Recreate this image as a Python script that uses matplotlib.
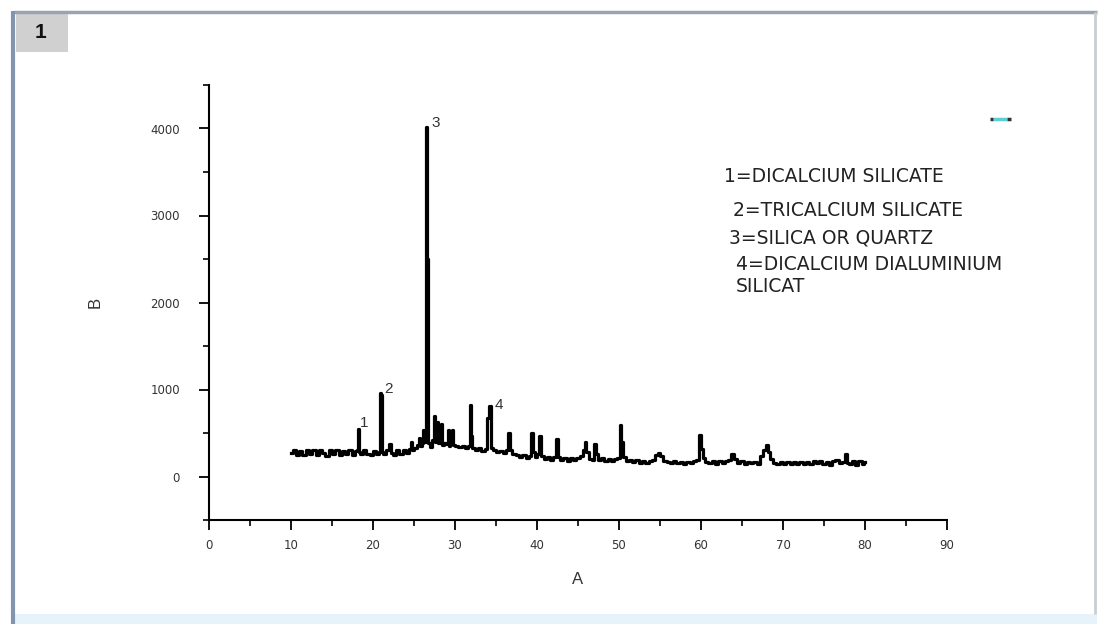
import matplotlib
matplotlib.use("Agg")
import matplotlib.pyplot as plt
from matplotlib.patches import Rectangle
from matplotlib.ticker import MultipleLocator

# XRD pattern (2-theta, counts)
two_theta = [
    10.0, 10.4, 10.8, 11.2, 11.6, 12.0, 12.4, 12.8, 13.2, 13.6, 14.0, 14.4, 14.8,
    15.2, 15.6, 16.0, 16.4, 16.8, 17.2, 17.6, 18.0, 18.1, 18.2, 18.3, 18.6, 19.0,
    19.4, 19.8, 20.2, 20.6, 20.8, 20.9, 21.0, 21.1, 21.4, 21.8, 22.1, 22.3, 22.6,
    23.0, 23.4, 23.8, 24.2, 24.6, 24.7, 24.8, 25.2, 25.6, 25.7, 25.8, 26.1, 26.2,
    26.3, 26.55, 26.7, 26.8, 27.0, 27.3, 27.5, 27.6, 27.8, 27.9, 28.0, 28.3, 28.4,
    28.5, 28.8, 29.1, 29.2, 29.3, 29.6, 29.7, 29.8, 30.2, 30.6, 31.0, 31.4, 31.8,
    31.95, 32.05, 32.2, 32.6, 33.0, 33.4, 33.8, 34.1, 34.3, 34.45, 34.8, 35.2, 35.6,
    36.0, 36.4, 36.6, 36.8, 37.2, 37.6, 38.0, 38.4, 38.8, 39.2, 39.4, 39.6, 39.9,
    40.2, 40.4, 40.6, 41.0, 41.4, 41.8, 42.2, 42.5, 42.7, 43.0, 43.4, 43.8, 44.2,
    44.6, 45.0, 45.4, 45.7, 45.9, 46.1, 46.5, 46.9, 47.1, 47.3, 47.6, 48.0, 48.4,
    48.8, 49.2, 49.6, 50.0, 50.2, 50.4, 50.6, 51.0, 51.4, 51.8, 52.2, 52.6, 53.0,
    53.4, 53.8, 54.2, 54.6, 54.9, 55.2, 55.6, 56.0, 56.4, 56.8, 57.2, 57.6, 58.0,
    58.4, 58.8, 59.2, 59.6, 59.9, 60.1, 60.3, 60.7, 61.1, 61.5, 61.9, 62.3, 62.7,
    63.1, 63.5, 63.9, 64.2, 64.6, 65.0, 65.4, 65.8, 66.2, 66.6, 67.0, 67.4, 67.8,
    68.1, 68.3, 68.6, 69.0, 69.4, 69.8, 70.2, 70.6, 71.0, 71.4, 71.8, 72.2, 72.6,
    73.0, 73.4, 73.8, 74.2, 74.6, 75.0, 75.4, 75.8, 76.2, 76.6, 77.0, 77.4, 77.7,
    77.9, 78.2, 78.6, 79.0, 79.4, 79.8, 80.0,
]
counts = [
    265, 300, 250, 295, 245, 305, 260, 310, 250, 300, 265, 240, 300,
    255, 305, 250, 295, 255, 310, 250, 295, 300, 550, 280, 255, 300,
    260, 245, 295, 255, 285, 960, 940, 280, 255, 300, 370, 275, 250,
    300, 260, 305, 275, 315, 395, 300, 330, 365, 440, 345, 385, 530,
    400, 4020, 2500, 380, 340, 420, 690, 400, 440, 630, 380, 400, 600,
    360, 390, 375, 530, 355, 385, 540, 365, 350, 335, 355, 330, 345,
    825, 470, 330, 300, 325, 290, 315, 670, 805, 330, 300, 285, 290,
    265, 305, 495, 300, 255, 245, 220, 250, 215, 240, 505, 280, 225,
    255, 460, 240, 205, 225, 195, 220, 435, 220, 195, 215, 180, 210,
    190, 215, 230, 310, 395, 280, 205, 195, 370, 260, 195, 210, 180,
    200, 175, 200, 210, 595, 400, 220, 175, 195, 165, 190, 160, 180,
    155, 180, 190, 250, 265, 230, 175, 170, 150, 175, 150, 170, 145,
    170, 155, 180, 185, 480, 320, 210, 170, 155, 180, 145, 180, 155,
    180, 190, 256, 200, 160, 175, 145, 170, 150, 170, 140, 230, 300,
    366, 280, 200, 155, 140, 170, 145, 165, 140, 170, 145, 165, 145,
    170, 140, 175, 150, 180, 145, 165, 135, 175, 185, 150, 170, 256,
    160, 140, 180, 135, 180, 145, 170,
]

peak_labels = ["1", "2", "3", "4"]
peak_label_x = [18.95, 21.9, 27.7, 35.3]
peak_label_y = [610, 1010, 4060, 820]

legend_lines = [
    "1=DICALCIUM SILICATE",
    "2=TRICALCIUM SILICATE",
    "3=SILICA OR QUARTZ",
    "4=DICALCIUM DIALUMINIUM",
    "SILICAT",
]

plt.rcParams['font.family'] = ['Liberation Sans', 'DejaVu Sans']

fig = plt.figure(figsize=(11, 6.24), dpi=100)
fig.patch.set_facecolor('white')

# window frame around the screenshot, in pixel coords
bg = fig.add_axes([0, 0, 1, 1], zorder=0)
bg.set_xlim(0, 1100)
bg.set_ylim(624, 0)
bg.axis('off')
bg.add_patch(Rectangle((13, 614), 1084, 10, color='#e6f3fa', lw=0))
bg.plot([13, 1097], [12, 12], color='#9aa4ae', lw=2.5, solid_capstyle='butt')
bg.plot([13, 13], [11, 624], color='#8196ae', lw=3, solid_capstyle='butt')
bg.plot([1095, 1095], [12, 614], color='#c9ced3', lw=2, solid_capstyle='butt')
bg.add_patch(Rectangle((16, 14), 52, 38, color='#d0d0d0', lw=0))
bg.text(41, 33, "1", fontsize=15, fontweight='bold', ha='center', va='center', color='#111111')

# little legend symbol
bg.plot([993, 1007], [119, 119], color='#5fd0d0', lw=2.5, solid_capstyle='butt')
bg.plot([990, 993], [119, 119], color='#333333', lw=2.5, solid_capstyle='butt')
bg.plot([1007, 1011], [119, 119], color='#333333', lw=2.5, solid_capstyle='butt')

legend_pos = [(724, 176), (733, 210), (729, 238), (736, 265), (736, 287)]
for txt, (px, py) in zip(legend_lines, legend_pos):
    bg.text(px, py, txt, fontsize=13.5, ha='left', va='center', color='#222222',
            family=['DejaVu Sans'])

ax = fig.add_axes([209 / 1100, 1 - 520 / 624, (947 - 209) / 1100, (520 - 85) / 624], zorder=1)
ax.patch.set_visible(False)
ax.plot(two_theta, counts, color='black', lw=2.3, drawstyle='steps-mid')

for lab, lx, ly in zip(peak_labels, peak_label_x, peak_label_y):
    ax.text(lx, ly, lab, fontsize=11, color='#333333', ha='center', va='center')

ax.set_xlim(0, 90)
ax.set_ylim(-500, 4500)
ax.xaxis.set_major_locator(MultipleLocator(10))
ax.xaxis.set_minor_locator(MultipleLocator(5))
ax.yaxis.set_major_locator(MultipleLocator(1000))
ax.yaxis.set_minor_locator(MultipleLocator(500))
ax.spines['top'].set_visible(False)
ax.spines['right'].set_visible(False)
ax.spines['left'].set_linewidth(1.5)
ax.spines['bottom'].set_linewidth(1.5)
ax.tick_params(which='major', length=7, width=1.3, labelsize=8.5, labelcolor='#333333')
ax.tick_params(which='minor', length=4, width=1.2)
ax.tick_params(axis='y', which='major', pad=14)
ax.tick_params(axis='x', which='major', pad=7)
for lbl in ax.get_xticklabels() + ax.get_yticklabels():
    lbl.set_family(['DejaVu Sans'])

ax.set_xlabel('A', fontsize=12, color='#333333', labelpad=14)
ax.set_ylabel('B', fontsize=12, color='#333333', labelpad=34)

plt.savefig('out.png', dpi=100)
plt.close()
